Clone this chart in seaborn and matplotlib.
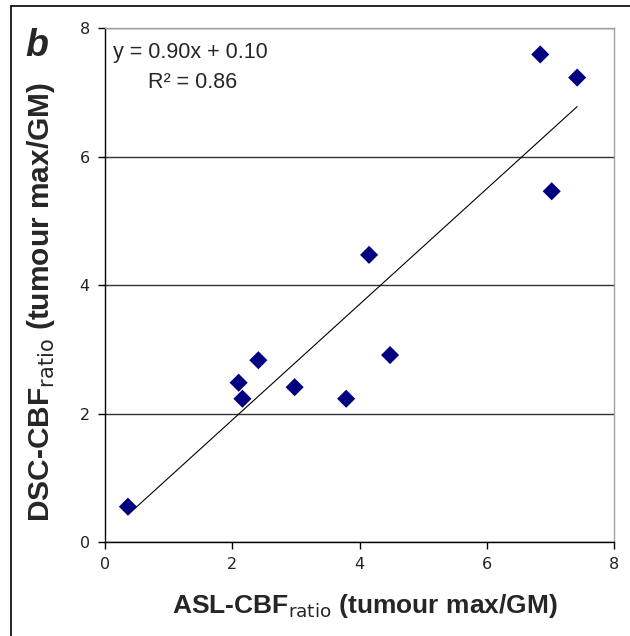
import numpy as np
import pandas as pd
import matplotlib
matplotlib.use("Agg")
import matplotlib.pyplot as plt
import seaborn as sns
from matplotlib.lines import Line2D

# values
asl_ratio = [0.36, 2.10, 2.16, 2.41, 2.98, 3.79, 4.15, 4.48, 6.84, 7.02, 7.42]
dsc_ratio = [0.55, 2.48, 2.23, 2.83, 2.41, 2.23, 4.47, 2.91, 7.59, 5.46, 7.23]
fit_slope = 0.90
fit_intercept = 0.10
r_squared = 0.86
tick_values = [0, 2, 4, 6, 8]
tick_labels = ["0", "2", "4", "6", "8"]

data = pd.DataFrame({"asl": asl_ratio, "dsc": dsc_ratio})

sns.set_style("white")
plt.rcParams["font.family"] = ["Liberation Sans", "DejaVu Sans"]
plt.rcParams["mathtext.fontset"] = "custom"
plt.rcParams["mathtext.rm"] = "Liberation Sans Narrow"
plt.rcParams["mathtext.it"] = "Liberation Sans Narrow"

fig = plt.figure(figsize=(6.3, 6.36), dpi=100)
ax = fig.add_axes([0.1667, 0.1478, 0.808, 0.808])

# trend line (Excel linear fit as printed on the chart)
fit_x = [min(asl_ratio), max(asl_ratio)]
fit_y = [fit_slope * v + fit_intercept for v in fit_x]
sns.lineplot(x=fit_x, y=fit_y, color="black", lw=0.8, ax=ax, zorder=3)

sns.scatterplot(data=data, x="asl", y="dsc", marker="D", color="#000080",
                s=85, edgecolor="none", ax=ax, zorder=4)

ax.set_xlim(0, 8)
ax.set_ylim(0, 8)
tick_font = ["Liberation Sans Narrow", "DejaVu Sans"]
ax.set_xticks(tick_values, tick_labels, fontfamily=tick_font, fontsize=11.5)
ax.set_yticks(tick_values, tick_labels, fontfamily=tick_font, fontsize=11.5)
ax.tick_params(direction="out", length=5, width=1, color="black", pad=6,
               left=True, bottom=True, labelcolor="#222222")

ax.yaxis.grid(True, color="#333333", lw=1)
ax.xaxis.grid(False)
for side in ["left", "bottom"]:
    ax.spines[side].set_color("black")
    ax.spines[side].set_linewidth(1)
for side in ["top", "right"]:
    ax.spines[side].set_color("#a0a0a0")
    ax.spines[side].set_linewidth(1)

ax.set_xlabel(r"ASL-CBF$_{\mathrm{ratio}}$ (tumour max/GM)", fontsize=19,
              fontweight="bold", va="center", ha="center")
ax.xaxis.set_label_coords(0.511, -0.1245)
ax.set_ylabel(r"DSC-CBF$_{\mathrm{ratio}}$ (tumour max/GM)", fontsize=21.5,
              fontweight="bold", va="center", ha="center")
ax.yaxis.set_label_coords(-0.126, 0.467)

ax.text(0.0157, 0.9416, "y = %.2fx + %.2f" % (fit_slope, fit_intercept),
        transform=ax.transAxes, fontsize=15.5, va="baseline", ha="left")
ax.text(0.0845, 0.883, "R² = %.2f" % r_squared,
        transform=ax.transAxes, fontsize=15.5, va="baseline", ha="left")

fig.text(0.0587, 0.9277, "b", fontsize=27, fontweight="bold",
         fontstyle="italic", ha="center", va="center")

# outer frame of the panel
fig.add_artist(Line2D([0.0175, 0.0175], [0, 0.9906], transform=fig.transFigure,
                      color="black", lw=1.2))
fig.add_artist(Line2D([0.0175, 1], [0.9906, 0.9906], transform=fig.transFigure,
                      color="black", lw=1.2))

fig.savefig("out.png", dpi=100)
